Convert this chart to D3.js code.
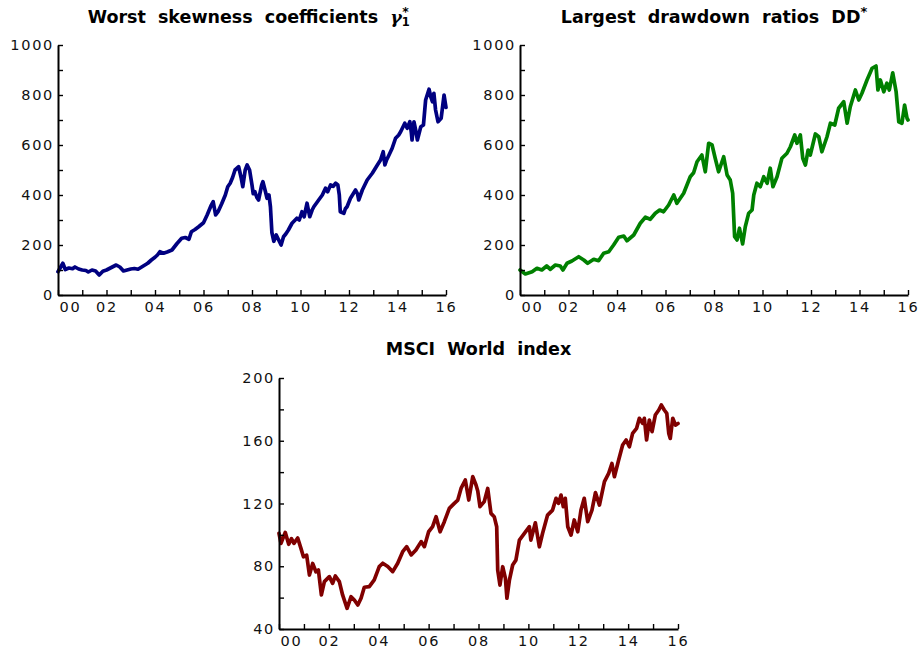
<!DOCTYPE html>
<html><head><meta charset="utf-8">
<script src="https://cdn.jsdelivr.net/npm/d3@7"></script>
<style>body{margin:0;background:#fff}svg{display:block}</style>
</head><body>
<svg id="chart" width="922" height="653"></svg>
<script>
// ---------- data ----------
const xTickYears = [2000,2001,2002,2003,2004,2005,2006,2007,2008,2009,2010,2011,2012,2013,2014,2015,2016];
const xTickLabels = ["00","","02","","04","","06","","08","","10","","12","","14","","16"];
const ddTickValues = [0,100,200,300,400,500,600,700,800,900,1000];
const ddTickLabels = ["0","","200","","400","","600","","800","","1000"];
const msciTickValues = [40,60,80,100,120,140,160,180,200];
const msciTickLabels = ["40","","80","","120","","160","","200"];

const skewDates = [2000.00,2000.10,2000.20,2000.30,2000.45,2000.60,2000.70,2000.85,2001.00,2001.15,2001.25,2001.40,2001.55,2001.70,2001.85,2002.00,2002.20,2002.40,2002.55,2002.70,2002.85,2003.00,2003.15,2003.30,2003.50,2003.70,2003.85,2004.00,2004.10,2004.20,2004.35,2004.50,2004.70,2004.90,2005.10,2005.25,2005.40,2005.50,2005.65,2005.80,2006.00,2006.15,2006.30,2006.40,2006.50,2006.60,2006.75,2006.90,2007.00,2007.10,2007.20,2007.30,2007.45,2007.55,2007.62,2007.72,2007.80,2007.90,2008.00,2008.05,2008.12,2008.20,2008.27,2008.40,2008.45,2008.55,2008.62,2008.70,2008.76,2008.82,2008.90,2009.00,2009.05,2009.20,2009.30,2009.40,2009.50,2009.65,2009.85,2009.95,2010.06,2010.15,2010.27,2010.38,2010.48,2010.55,2010.75,2010.90,2011.03,2011.12,2011.24,2011.35,2011.45,2011.54,2011.60,2011.64,2011.79,2011.85,2011.92,2012.06,2012.27,2012.35,2012.40,2012.55,2012.75,2012.96,2013.17,2013.30,2013.41,2013.48,2013.55,2013.65,2013.78,2013.92,2014.05,2014.13,2014.30,2014.40,2014.51,2014.57,2014.60,2014.68,2014.75,2014.82,2014.96,2015.07,2015.16,2015.30,2015.38,2015.44,2015.50,2015.57,2015.67,2015.80,2015.92,2016.00];
const skewValues = [93,110,127,102,108,105,112,104,100,98,92,100,96,80,95,100,110,120,112,96,100,104,106,103,115,127,140,151,160,173,167,172,180,205,227,230,223,253,262,273,289,320,355,373,320,333,365,400,433,447,470,500,513,470,433,500,520,500,440,405,413,390,380,440,453,415,387,400,353,250,215,240,230,200,233,245,260,287,307,300,333,313,367,313,340,353,380,400,427,413,440,435,447,440,400,333,327,345,353,387,420,405,380,420,460,487,520,540,573,520,540,560,587,627,640,653,687,667,693,650,620,693,660,620,673,680,780,823,790,773,807,740,693,707,800,750];

const drawDates = [2000.00,2000.22,2000.50,2000.70,2000.90,2001.10,2001.25,2001.46,2001.66,2001.77,2001.94,2002.14,2002.42,2002.63,2002.79,2003.04,2003.24,2003.45,2003.66,2003.86,2004.07,2004.28,2004.41,2004.69,2004.96,2005.17,2005.37,2005.58,2005.76,2005.92,2006.13,2006.34,2006.47,2006.75,2007.02,2007.16,2007.30,2007.50,2007.64,2007.78,2007.92,2008.05,2008.19,2008.40,2008.54,2008.67,2008.77,2008.85,2008.95,2009.05,2009.18,2009.29,2009.43,2009.57,2009.64,2009.77,2009.91,2010.05,2010.19,2010.32,2010.43,2010.60,2010.80,2011.01,2011.15,2011.33,2011.42,2011.56,2011.66,2011.77,2011.88,2011.97,2012.18,2012.32,2012.45,2012.66,2012.80,2012.98,2013.14,2013.35,2013.49,2013.62,2013.83,2013.97,2014.10,2014.31,2014.52,2014.68,2014.76,2014.86,2015.00,2015.13,2015.23,2015.37,2015.51,2015.62,2015.75,2015.86,2015.96,2016.00];
const drawValues = [100,84,93,107,100,116,103,120,116,100,127,136,153,140,127,143,137,167,173,200,231,236,217,240,287,311,303,327,340,333,360,400,367,407,473,489,533,560,493,607,600,547,493,553,480,460,407,233,220,267,204,273,327,340,400,447,433,473,447,507,433,473,547,567,593,640,607,640,547,520,580,560,644,633,573,633,687,680,747,773,687,753,820,780,807,860,907,916,820,860,813,847,820,889,813,693,687,760,707,700];

const msciDates = [2000.00,2000.08,2000.25,2000.39,2000.50,2000.60,2000.75,2000.88,2000.98,2001.11,2001.22,2001.35,2001.48,2001.58,2001.70,2001.82,2002.02,2002.15,2002.26,2002.42,2002.55,2002.73,2002.89,2003.02,2003.16,2003.29,2003.42,2003.62,2003.82,2004.02,2004.16,2004.36,2004.56,2004.76,2004.96,2005.12,2005.30,2005.49,2005.70,2005.83,2006.00,2006.16,2006.30,2006.46,2006.63,2006.83,2007.03,2007.17,2007.30,2007.47,2007.61,2007.77,2007.90,2007.97,2008.06,2008.23,2008.37,2008.50,2008.63,2008.73,2008.77,2008.86,2008.97,2009.08,2009.14,2009.24,2009.37,2009.50,2009.64,2009.84,2010.04,2010.10,2010.28,2010.44,2010.57,2010.77,2010.97,2011.11,2011.21,2011.31,2011.40,2011.48,2011.58,2011.71,2011.84,2011.98,2012.11,2012.24,2012.38,2012.55,2012.69,2012.85,2013.05,2013.22,2013.35,2013.45,2013.62,2013.78,2013.92,2014.05,2014.18,2014.34,2014.45,2014.58,2014.65,2014.74,2014.85,2014.96,2015.09,2015.23,2015.33,2015.45,2015.55,2015.63,2015.69,2015.79,2015.90,2016.00];
const msciValues = [101,94.6,101.6,94,97.6,94.6,98,91.4,86,87,74.4,81.8,76.5,77.6,61.7,70.2,73.4,69.1,73.8,70.2,61.7,53.2,60.6,58.5,55.3,59.6,66.6,67,71.3,79.8,81.9,79.8,76.6,81.9,89.3,92.5,87.2,90.4,95.7,92.5,102,105.2,111.6,102,108.4,116.9,120.1,122.2,129.6,135,122.2,137.1,131.8,128,118,121.2,129.6,113.7,111.6,105.2,77.6,68,79.7,72.3,59.6,71.2,80.8,83.9,96.7,101,105.2,96.7,107.7,92.4,101,112.6,115.8,123.3,120.1,125.4,118,123.3,105.2,99.9,109.5,102,115.8,123.3,108.4,115.8,126.9,119,133.9,139.2,145.5,137.1,147.7,157.3,160.5,156.2,164.7,167.9,174.3,171.1,174.3,160.5,173.2,165.8,176.4,179.6,182.8,179.6,177.5,164.7,161.5,174.3,170,171];

// ---------- drawing ----------
const svg = d3.select("#chart");
const LABEL_FONT = "'DejaVu Sans', sans-serif";

function panel(cfg) {
  const x = d3.scaleLinear().domain([2000, 2016]).range([cfg.left, cfg.right]);
  const y = d3.scaleLinear().domain(cfg.yDomain).range([cfg.bottom, cfg.top]);
  const g = svg.append("g");

  const pts = cfg.dates.map((d, i) => [d, cfg.values[i]]);
  g.append("path")
    .datum(pts)
    .attr("fill", "none")
    .attr("stroke", cfg.color)
    .attr("stroke-width", 3.7)
    .attr("stroke-linejoin", "round")
    .attr("stroke-linecap", "round")
    .attr("d", d3.line().x(d => x(d[0])).y(d => y(d[1])));

  const ya = g.append("g").attr("transform", `translate(${cfg.left},0)`)
    .call(d3.axisLeft(y).tickValues(cfg.yTicks)
      .tickFormat((d, i) => cfg.yLabels[i]).tickSize(-5).tickSizeOuter(0).tickPadding(4));
  const xa = g.append("g").attr("transform", `translate(0,${cfg.bottom})`)
    .call(d3.axisBottom(x).tickValues(xTickYears)
      .tickFormat((d, i) => xTickLabels[i]).tickSize(-5).tickSizeOuter(0).tickPadding(7));
  [ya, xa].forEach(a => {
    a.attr("font-family", LABEL_FONT).attr("font-size", 14.5);
    a.select(".domain").attr("stroke", "#000").attr("stroke-width", 2);
    a.selectAll(".tick line").attr("stroke", "#000").attr("stroke-width", 1.4);
    a.selectAll("text").attr("fill", "#111").style("letter-spacing", "1.7px");
  });
  xa.selectAll(".tick").filter(d => d === 2000).select("text")
    .attr("text-anchor", "start").attr("x", 1);

  const cx = (cfg.left + cfg.right) / 2;
  const t = g.append("text")
    .attr("y", cfg.titleY)
    .attr("font-family", LABEL_FONT)
    .attr("font-weight", "bold")
    .attr("font-size", 17.5)
    .attr("word-spacing", "6px")
    .attr("fill", "#000");
  cfg.titleParts(t);
  const w = t.node().getComputedTextLength();
  t.attr("x", cx - w / 2);
}

panel({
  left: 58, right: 446, top: 45, bottom: 295, titleY: 23,
  yDomain: [0, 1000], yTicks: ddTickValues, yLabels: ddTickLabels,
  dates: skewDates, values: skewValues, color: "#000080",
  titleParts: t => {
    t.append("tspan").text("Worst skewness coefficients ");
    t.append("tspan").attr("font-style", "italic").attr("font-family", "'DejaVu Serif', serif").text("γ");
    t.append("tspan").attr("font-size", 11.5).attr("dy", 3).text("1");
    t.append("tspan").attr("font-size", 12.5).attr("dx", -7.5).attr("dy", -10).text("*");
  }
});

panel({
  left: 520, right: 908, top: 45, bottom: 295, titleY: 23,
  yDomain: [0, 1000], yTicks: ddTickValues, yLabels: ddTickLabels,
  dates: drawDates, values: drawValues, color: "#008000",
  titleParts: t => {
    t.append("tspan").text("Largest drawdown ratios DD");
    t.append("tspan").attr("font-size", 13).attr("dy", -7).text("*");
  }
});

panel({
  left: 279, right: 678, top: 378, bottom: 629, titleY: 355,
  yDomain: [40, 200], yTicks: msciTickValues, yLabels: msciTickLabels,
  dates: msciDates, values: msciValues, color: "#800000",
  titleParts: t => { t.append("tspan").text("MSCI World index"); }
});
</script>
</body></html>
